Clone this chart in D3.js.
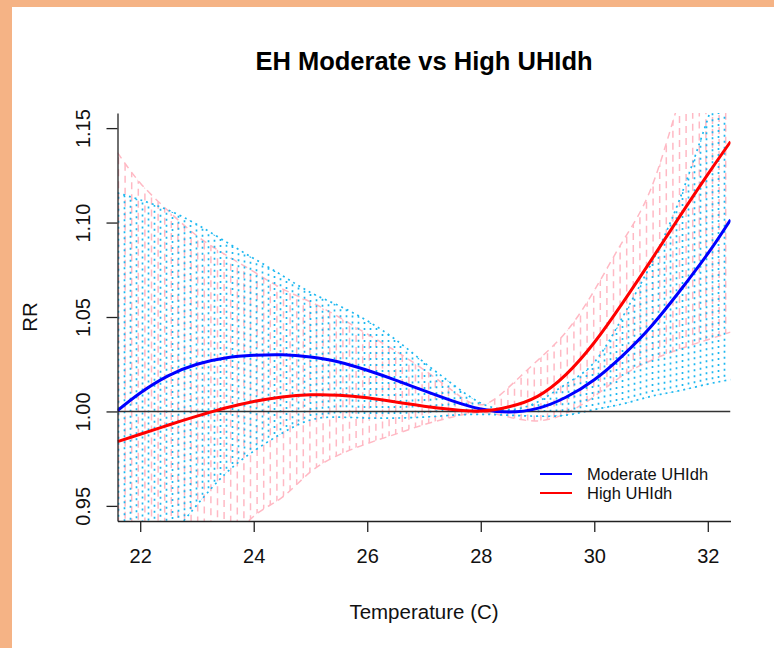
<!DOCTYPE html>
<html>
<head>
<meta charset="utf-8">
<script src="https://cdn.jsdelivr.net/npm/d3@7"></script>
<style>
  body { margin: 0; background: #ffffff; }
  svg { display: block; font-family: "Liberation Sans", Arial, sans-serif; }
</style>
</head>
<body>
<div id="chart"></div>
<script>
// Chart size and plot region (R style "L" box)
var width = 774;
var height = 648;
var plotLeft = 117.5, plotRight = 730.5, plotTop = 113, plotBottom = 521;

// Temperature grid the curves were read at
var temps = [21.6, 22.0, 22.5, 23.0, 23.5, 24.0, 24.5, 25.0, 25.5, 26.0, 26.5, 27.0,
             27.5, 28.0, 28.5, 29.0, 29.5, 30.0, 30.5, 31.0, 31.5, 32.0, 32.4];

// Moderate UHIdh: RR and confidence band
var modFit  = [1.0005, 1.0098, 1.0190, 1.0250, 1.0283, 1.0297, 1.0300, 1.0288, 1.0262, 1.0218, 1.0166, 1.0110,
               1.0056, 1.0013, 0.9997, 1.0016, 1.0075, 1.0168, 1.0296, 1.0450, 1.0635, 1.0835, 1.1015];
var modLow  = [0.897, 0.912, 0.932, 0.9505, 0.967, 0.979, 0.9885, 0.9955, 0.997, 0.9965, 0.9965, 0.997,
               0.998, 0.9985, 0.998, 0.9975, 0.998, 1.001, 1.004, 1.008, 1.011, 1.0145, 1.0168];
var modHigh = [1.1157, 1.112, 1.1065, 1.099, 1.090, 1.081, 1.072, 1.063, 1.056, 1.048, 1.038, 1.026,
               1.0145, 1.0045, 1.001, 1.005, 1.0145, 1.026, 1.050, 1.078, 1.112, 1.155, 1.190];

// High UHIdh: RR and confidence band
var highFit  = [0.9840, 0.9879, 0.9928, 0.9975, 1.0018, 1.0053, 1.0077, 1.0088, 1.0086, 1.0072, 1.0050, 1.0028,
                1.0010, 1.0002, 1.0025, 1.0080, 1.0195, 1.0365, 1.0575, 1.0800, 1.1030, 1.1255, 1.1428];
var highLow  = [0.852, 0.862, 0.880, 0.903, 0.926, 0.9445, 0.9545, 0.968, 0.977, 0.983, 0.988, 0.993,
                0.997, 0.9995, 0.997, 0.995, 0.999, 1.008, 1.019, 1.027, 1.033, 1.038, 1.042];
var highHigh = [1.137, 1.121, 1.106, 1.093, 1.083, 1.074, 1.065, 1.058, 1.050, 1.041, 1.032, 1.022,
                1.011, 1.0035, 1.013, 1.027, 1.042, 1.064, 1.090, 1.118, 1.165, 1.210, 1.240];

// Tick values and labels
var xTicks = [22, 24, 26, 28, 30, 32];
var yTicks = [0.95, 1.00, 1.05, 1.10, 1.15];
var legendLabels = ["Moderate UHIdh", "High UHIdh"];

// Colors
var borderColor = "#F5B385";
var modColor = "#0000FF";
var highColor = "#FF0000";
var modBand = "#1EB8F0";
var highBand = "#FFB9C4";

var x = d3.scaleLinear().domain([21.6, 32.4]).range([plotLeft, plotRight]);
var y = d3.scaleLinear().domain([0.942, 1.158]).range([plotBottom, plotTop]);

var svg = d3.select("#chart").append("svg")
    .attr("width", width)
    .attr("height", height);

// Orange frame strips
svg.append("rect").attr("x", 0).attr("y", 0).attr("width", width).attr("height", 7).attr("fill", borderColor);
svg.append("rect").attr("x", 0).attr("y", 0).attr("width", 12).attr("height", height).attr("fill", borderColor);

var defs = svg.append("defs");
defs.append("clipPath").attr("id", "plotClip")
  .append("rect")
    .attr("x", plotLeft).attr("y", plotTop)
    .attr("width", plotRight - plotLeft).attr("height", plotBottom - plotTop);

var plot = svg.append("g").attr("clip-path", "url(#plotClip)");

// Hatched band like R polygon(density=, angle=90)
function drawBand(id, low, high, color, dash, width, spacing) {
    var area = d3.area()
        .x(function(d, i) { return x(temps[i]); })
        .y0(function(d, i) { return y(low[i]); })
        .y1(function(d, i) { return y(high[i]); })
        .curve(d3.curveNatural);

    defs.append("clipPath").attr("id", id)
      .append("path").attr("d", area(temps));

    var lowAt = d3.scaleLinear().domain(temps).range(low);
    var highAt = d3.scaleLinear().domain(temps).range(high);

    var xs = d3.range(plotLeft + 1, plotRight, spacing);
    plot.append("g").attr("clip-path", "url(#" + id + ")")
      .selectAll("line")
      .data(xs)
      .enter()
      .append("line")
        .attr("x1", function(d) { return d; })
        .attr("x2", function(d) { return d; })
        .attr("y1", function(d) { return y(lowAt(x.invert(d))) + 2; })
        .attr("y2", function(d) { return y(highAt(x.invert(d))) - 2; })
        .attr("stroke", color)
        .attr("stroke-width", width)
        .attr("stroke-dasharray", dash);

    // Band border
    var edge = d3.line()
        .x(function(d, i) { return x(temps[i]); })
        .curve(d3.curveNatural);
    [low, high].forEach(function(vals) {
        plot.append("path")
            .attr("d", edge.y(function(d, i) { return y(vals[i]); })(temps))
            .attr("fill", "none")
            .attr("stroke", color)
            .attr("stroke-width", width)
            .attr("stroke-dasharray", dash);
    });
}

drawBand("highBandClip", highLow, highHigh, highBand, "7,5", 1.5, 6.6);
drawBand("modBandClip", modLow, modHigh, modBand, "2,4", 1.7, 6);

// Reference line at RR = 1
plot.append("line")
    .attr("x1", plotLeft).attr("x2", plotRight)
    .attr("y1", y(1)).attr("y2", y(1))
    .attr("stroke", "#333")
    .attr("stroke-width", 1.4);

// Fitted curves
function drawCurve(vals, color) {
    var line = d3.line()
        .x(function(d, i) { return x(temps[i]); })
        .y(function(d, i) { return y(vals[i]); })
        .curve(d3.curveNatural);
    plot.append("path")
        .attr("d", line(temps))
        .attr("fill", "none")
        .attr("stroke", color)
        .attr("stroke-width", 3);
}
drawCurve(modFit, modColor);
drawCurve(highFit, highColor);

// X axis
var xAxis = svg.append("g")
    .attr("transform", "translate(0," + plotBottom + ")")
    .call(d3.axisBottom(x).tickValues(xTicks).tickSize(11).tickSizeOuter(0).tickPadding(17));
xAxis.selectAll("text")
    .style("font-family", "Liberation Sans, Arial, sans-serif")
    .style("font-size", "20px")
    .attr("fill", "#111");

// Y axis
var yAxis = svg.append("g")
    .attr("transform", "translate(" + plotLeft + ",0)")
    .call(d3.axisLeft(y).tickValues(yTicks).tickSize(11).tickSizeOuter(0).tickFormat(d3.format(".2f")));
yAxis.selectAll("text")
    .attr("x", null)
    .attr("dy", null)
    .attr("text-anchor", "middle")
    .attr("transform", "translate(-27.5,0) rotate(-90)")
    .style("font-family", "Liberation Sans, Arial, sans-serif")
    .style("font-size", "20px")
    .attr("fill", "#111");

[xAxis, yAxis].forEach(function(a) {
    a.selectAll("path, line").attr("stroke", "#222").attr("stroke-width", 1.3);
});

// Title and axis labels
svg.append("text")
    .attr("x", (plotLeft + plotRight) / 2)
    .attr("y", 70)
    .attr("text-anchor", "middle")
    .style("font-size", "25.5px")
    .style("font-weight", "bold")
    .text("EH Moderate vs High UHIdh");

svg.append("text")
    .attr("x", (plotLeft + plotRight) / 2)
    .attr("y", 619)
    .attr("text-anchor", "middle")
    .style("font-size", "20.5px")
    .attr("fill", "#111")
    .text("Temperature (C)");

svg.append("text")
    .attr("transform", "translate(37," + ((plotTop + plotBottom) / 2) + ") rotate(-90)")
    .attr("text-anchor", "middle")
    .style("font-size", "20.5px")
    .attr("fill", "#111")
    .text("RR");

// Legend (no box)
var legend = svg.append("g").attr("transform", "translate(540,474)");
var legendColors = [modColor, highColor];
legendLabels.forEach(function(label, i) {
    legend.append("line")
        .attr("x1", 0).attr("x2", 32)
        .attr("y1", i * 19).attr("y2", i * 19)
        .attr("stroke", legendColors[i])
        .attr("stroke-width", 2);
    legend.append("text")
        .attr("x", 47)
        .attr("y", i * 19 + 6)
        .style("font-size", "16.5px")
        .attr("fill", "#111")
        .text(label);
});
</script>
</body>
</html>
